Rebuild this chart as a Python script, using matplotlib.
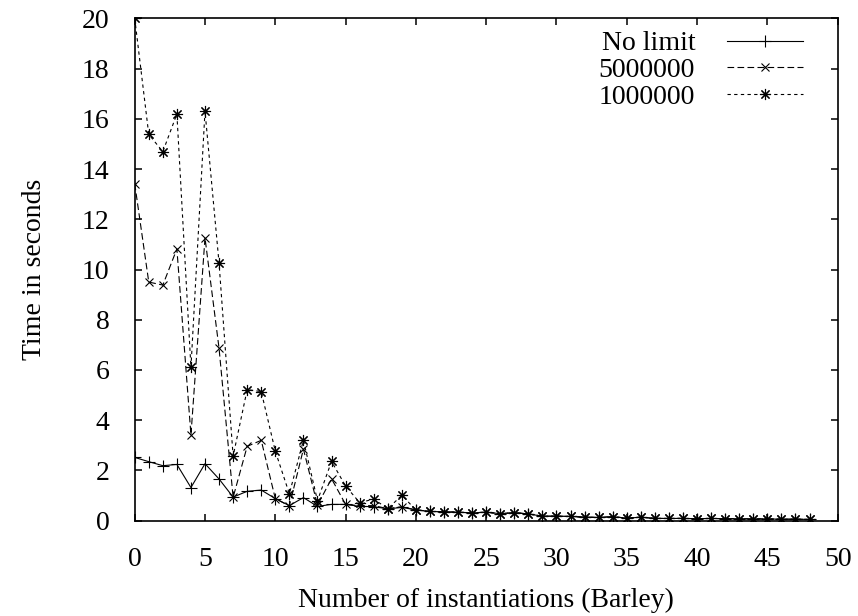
import matplotlib
matplotlib.use('Agg')
import matplotlib.pyplot as plt

plt.rcParams['font.family'] = ['Liberation Serif', 'DejaVu Serif']
plt.rcParams['font.size'] = 20

# instantiation counts 0..48
instantiations = list(range(49))

# from 20 on the three runs coincide
tail = [0.43, 0.37, 0.35, 0.34, 0.31, 0.34, 0.28, 0.32, 0.27, 0.18,
        0.18, 0.17, 0.14, 0.13, 0.16, 0.10, 0.14, 0.09, 0.09, 0.09,
        0.08, 0.09, 0.08, 0.08, 0.07, 0.07, 0.06, 0.06, 0.05]

no_limit = [2.52, 2.35, 2.19, 2.24, 1.32, 2.27, 1.66, 0.94, 1.17, 1.22,
            0.88, 0.60, 0.92, 0.57, 0.65, 0.65, 0.57, 0.56, 0.47, 0.53] + tail
limit_5m = [13.42, 9.50, 9.38, 10.82, 3.41, 11.26, 6.86, 0.93, 2.96, 3.20,
            0.88, 0.59, 2.85, 0.62, 1.67, 0.65, 0.60, 0.60, 0.48, 0.56] + tail
limit_1m = [20.0, 15.38, 14.69, 16.19, 6.10, 16.30, 10.25, 2.57, 5.22, 5.14,
            2.77, 1.07, 3.20, 0.80, 2.36, 1.38, 0.72, 0.86, 0.48, 1.01] + tail

labels = ['No limit', '5000000', '1000000']

fig = plt.figure(figsize=(8.58, 6.16), dpi=100)
ax = fig.add_axes([0.157, 0.1547, 0.8193, 0.8156])

lw = 0.8
ax.plot(instantiations, no_limit, color='black', linewidth=lw, linestyle='-',
        marker='+', markersize=8, markeredgewidth=lw, label=labels[0])
ax.plot(instantiations, limit_5m, color='black', linewidth=lw, dashes=(6, 3),
        marker='x', markersize=6, markeredgewidth=lw, label=labels[1])
ax.plot(instantiations, limit_1m, color='black', linewidth=lw, dashes=(3, 3),
        marker=(8, 2, 0), markersize=8, markeredgewidth=lw, label=labels[2])

ax.set_xlim(0, 50)
ax.set_ylim(0, 20)
ax.set_xticks(range(0, 51, 5))
ax.set_yticks(range(0, 21, 2))
ax.tick_params(direction='in', length=5, width=1.1, top=True, right=True)
ax.tick_params(axis='y', pad=18)
ax.tick_params(axis='x', pad=19)
for s in ax.spines.values():
    s.set_linewidth(1.2)

ax.set_xlabel('Number of instantiations (Barley)', labelpad=11)
ax.set_ylabel('Time in seconds', labelpad=25)

leg = ax.legend(loc='upper right', bbox_to_anchor=(0.9506, 0.975), frameon=False,
                markerfirst=False, handlelength=2.73, handletextpad=1.15,
                labelspacing=0.05, borderpad=0, borderaxespad=0)

fig.savefig('out.png', dpi=100)
plt.close(fig)
